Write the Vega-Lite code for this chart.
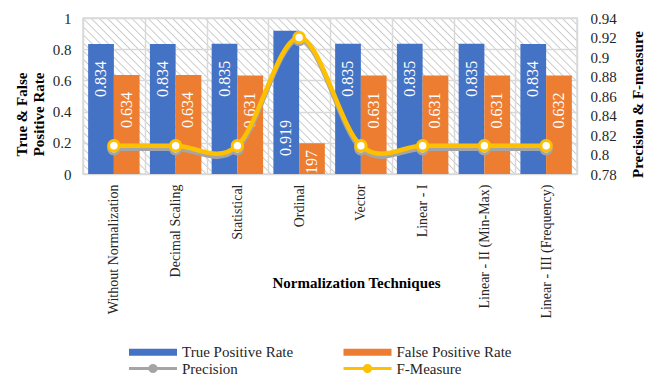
{
  "$schema": "https://vega.github.io/schema/vega-lite/v6.json",
  "width": 494,
  "height": 156,
  "autosize": {"type": "none"},
  "padding": {"left": 83, "top": 18, "right": 81, "bottom": 202},
  "config": {
    "font": "Liberation Serif",
    "view": {"stroke": "#d9d9d9", "strokeWidth": 1.5},
    "axis": {
      "labelFont": "Liberation Serif",
      "labelFontSize": 15,
      "labelColor": "#262626",
      "labelOverlap": false,
      "labelBound": false,
      "titleFont": "Liberation Serif",
      "titleFontSize": 15,
      "titleFontWeight": "bold",
      "titleColor": "#000000",
      "domain": false,
      "ticks": false,
      "gridColor": "#d9d9d9",
      "gridWidth": 1.5
    },
    "legend": {"labelFont": "Liberation Serif", "labelFontSize": 15, "labelColor": "#262626"}
  },
  "view": {
    "fill": {
      "gradient": "linear",
      "x1": 0, "y1": 1, "x2": 1.1965, "y2": 0.6222,
      "stops": [
        {"offset": 0, "color": "#ffffff"}, {"offset": 0.002, "color": "#c8c8c8"}, {"offset": 0.004, "color": "#ffffff"},
        {"offset": 0.0125, "color": "#ffffff"}, {"offset": 0.0145, "color": "#c8c8c8"}, {"offset": 0.0165, "color": "#ffffff"},
        {"offset": 0.025, "color": "#ffffff"}, {"offset": 0.027, "color": "#c8c8c8"}, {"offset": 0.029, "color": "#ffffff"},
        {"offset": 0.0375, "color": "#ffffff"}, {"offset": 0.0395, "color": "#c8c8c8"}, {"offset": 0.0415, "color": "#ffffff"},
        {"offset": 0.05, "color": "#ffffff"}, {"offset": 0.052, "color": "#c8c8c8"}, {"offset": 0.054, "color": "#ffffff"},
        {"offset": 0.0625, "color": "#ffffff"}, {"offset": 0.0645, "color": "#c8c8c8"}, {"offset": 0.0665, "color": "#ffffff"},
        {"offset": 0.075, "color": "#ffffff"}, {"offset": 0.077, "color": "#c8c8c8"}, {"offset": 0.079, "color": "#ffffff"},
        {"offset": 0.0875, "color": "#ffffff"}, {"offset": 0.0895, "color": "#c8c8c8"}, {"offset": 0.0915, "color": "#ffffff"},
        {"offset": 0.1, "color": "#ffffff"}, {"offset": 0.102, "color": "#c8c8c8"}, {"offset": 0.104, "color": "#ffffff"},
        {"offset": 0.1125, "color": "#ffffff"}, {"offset": 0.1145, "color": "#c8c8c8"}, {"offset": 0.1165, "color": "#ffffff"},
        {"offset": 0.125, "color": "#ffffff"}, {"offset": 0.127, "color": "#c8c8c8"}, {"offset": 0.129, "color": "#ffffff"},
        {"offset": 0.1375, "color": "#ffffff"}, {"offset": 0.1395, "color": "#c8c8c8"}, {"offset": 0.1415, "color": "#ffffff"},
        {"offset": 0.15, "color": "#ffffff"}, {"offset": 0.152, "color": "#c8c8c8"}, {"offset": 0.154, "color": "#ffffff"},
        {"offset": 0.1625, "color": "#ffffff"}, {"offset": 0.1645, "color": "#c8c8c8"}, {"offset": 0.1665, "color": "#ffffff"},
        {"offset": 0.175, "color": "#ffffff"}, {"offset": 0.177, "color": "#c8c8c8"}, {"offset": 0.179, "color": "#ffffff"},
        {"offset": 0.1875, "color": "#ffffff"}, {"offset": 0.1895, "color": "#c8c8c8"}, {"offset": 0.1915, "color": "#ffffff"},
        {"offset": 0.2, "color": "#ffffff"}, {"offset": 0.202, "color": "#c8c8c8"}, {"offset": 0.204, "color": "#ffffff"},
        {"offset": 0.2125, "color": "#ffffff"}, {"offset": 0.2145, "color": "#c8c8c8"}, {"offset": 0.2165, "color": "#ffffff"},
        {"offset": 0.225, "color": "#ffffff"}, {"offset": 0.227, "color": "#c8c8c8"}, {"offset": 0.229, "color": "#ffffff"},
        {"offset": 0.2375, "color": "#ffffff"}, {"offset": 0.2395, "color": "#c8c8c8"}, {"offset": 0.2415, "color": "#ffffff"},
        {"offset": 0.25, "color": "#ffffff"}, {"offset": 0.252, "color": "#c8c8c8"}, {"offset": 0.254, "color": "#ffffff"},
        {"offset": 0.2625, "color": "#ffffff"}, {"offset": 0.2645, "color": "#c8c8c8"}, {"offset": 0.2665, "color": "#ffffff"},
        {"offset": 0.275, "color": "#ffffff"}, {"offset": 0.277, "color": "#c8c8c8"}, {"offset": 0.279, "color": "#ffffff"},
        {"offset": 0.2875, "color": "#ffffff"}, {"offset": 0.2895, "color": "#c8c8c8"}, {"offset": 0.2915, "color": "#ffffff"},
        {"offset": 0.3, "color": "#ffffff"}, {"offset": 0.302, "color": "#c8c8c8"}, {"offset": 0.304, "color": "#ffffff"},
        {"offset": 0.3125, "color": "#ffffff"}, {"offset": 0.3145, "color": "#c8c8c8"}, {"offset": 0.3165, "color": "#ffffff"},
        {"offset": 0.325, "color": "#ffffff"}, {"offset": 0.327, "color": "#c8c8c8"}, {"offset": 0.329, "color": "#ffffff"},
        {"offset": 0.3375, "color": "#ffffff"}, {"offset": 0.3395, "color": "#c8c8c8"}, {"offset": 0.3415, "color": "#ffffff"},
        {"offset": 0.35, "color": "#ffffff"}, {"offset": 0.352, "color": "#c8c8c8"}, {"offset": 0.354, "color": "#ffffff"},
        {"offset": 0.3625, "color": "#ffffff"}, {"offset": 0.3645, "color": "#c8c8c8"}, {"offset": 0.3665, "color": "#ffffff"},
        {"offset": 0.375, "color": "#ffffff"}, {"offset": 0.377, "color": "#c8c8c8"}, {"offset": 0.379, "color": "#ffffff"},
        {"offset": 0.3875, "color": "#ffffff"}, {"offset": 0.3895, "color": "#c8c8c8"}, {"offset": 0.3915, "color": "#ffffff"},
        {"offset": 0.4, "color": "#ffffff"}, {"offset": 0.402, "color": "#c8c8c8"}, {"offset": 0.404, "color": "#ffffff"},
        {"offset": 0.4125, "color": "#ffffff"}, {"offset": 0.4145, "color": "#c8c8c8"}, {"offset": 0.4165, "color": "#ffffff"},
        {"offset": 0.425, "color": "#ffffff"}, {"offset": 0.427, "color": "#c8c8c8"}, {"offset": 0.429, "color": "#ffffff"},
        {"offset": 0.4375, "color": "#ffffff"}, {"offset": 0.4395, "color": "#c8c8c8"}, {"offset": 0.4415, "color": "#ffffff"},
        {"offset": 0.45, "color": "#ffffff"}, {"offset": 0.452, "color": "#c8c8c8"}, {"offset": 0.454, "color": "#ffffff"},
        {"offset": 0.4625, "color": "#ffffff"}, {"offset": 0.4645, "color": "#c8c8c8"}, {"offset": 0.4665, "color": "#ffffff"},
        {"offset": 0.475, "color": "#ffffff"}, {"offset": 0.477, "color": "#c8c8c8"}, {"offset": 0.479, "color": "#ffffff"},
        {"offset": 0.4875, "color": "#ffffff"}, {"offset": 0.4895, "color": "#c8c8c8"}, {"offset": 0.4915, "color": "#ffffff"},
        {"offset": 0.5, "color": "#ffffff"}, {"offset": 0.502, "color": "#c8c8c8"}, {"offset": 0.504, "color": "#ffffff"},
        {"offset": 0.5125, "color": "#ffffff"}, {"offset": 0.5145, "color": "#c8c8c8"}, {"offset": 0.5165, "color": "#ffffff"},
        {"offset": 0.525, "color": "#ffffff"}, {"offset": 0.527, "color": "#c8c8c8"}, {"offset": 0.529, "color": "#ffffff"},
        {"offset": 0.5375, "color": "#ffffff"}, {"offset": 0.5395, "color": "#c8c8c8"}, {"offset": 0.5415, "color": "#ffffff"},
        {"offset": 0.55, "color": "#ffffff"}, {"offset": 0.552, "color": "#c8c8c8"}, {"offset": 0.554, "color": "#ffffff"},
        {"offset": 0.5625, "color": "#ffffff"}, {"offset": 0.5645, "color": "#c8c8c8"}, {"offset": 0.5665, "color": "#ffffff"},
        {"offset": 0.575, "color": "#ffffff"}, {"offset": 0.577, "color": "#c8c8c8"}, {"offset": 0.579, "color": "#ffffff"},
        {"offset": 0.5875, "color": "#ffffff"}, {"offset": 0.5895, "color": "#c8c8c8"}, {"offset": 0.5915, "color": "#ffffff"},
        {"offset": 0.6, "color": "#ffffff"}, {"offset": 0.602, "color": "#c8c8c8"}, {"offset": 0.604, "color": "#ffffff"},
        {"offset": 0.6125, "color": "#ffffff"}, {"offset": 0.6145, "color": "#c8c8c8"}, {"offset": 0.6165, "color": "#ffffff"},
        {"offset": 0.625, "color": "#ffffff"}, {"offset": 0.627, "color": "#c8c8c8"}, {"offset": 0.629, "color": "#ffffff"},
        {"offset": 0.6375, "color": "#ffffff"}, {"offset": 0.6395, "color": "#c8c8c8"}, {"offset": 0.6415, "color": "#ffffff"},
        {"offset": 0.65, "color": "#ffffff"}, {"offset": 0.652, "color": "#c8c8c8"}, {"offset": 0.654, "color": "#ffffff"},
        {"offset": 0.6625, "color": "#ffffff"}, {"offset": 0.6645, "color": "#c8c8c8"}, {"offset": 0.6665, "color": "#ffffff"},
        {"offset": 0.675, "color": "#ffffff"}, {"offset": 0.677, "color": "#c8c8c8"}, {"offset": 0.679, "color": "#ffffff"},
        {"offset": 0.6875, "color": "#ffffff"}, {"offset": 0.6895, "color": "#c8c8c8"}, {"offset": 0.6915, "color": "#ffffff"},
        {"offset": 0.7, "color": "#ffffff"}, {"offset": 0.702, "color": "#c8c8c8"}, {"offset": 0.704, "color": "#ffffff"},
        {"offset": 0.7125, "color": "#ffffff"}, {"offset": 0.7145, "color": "#c8c8c8"}, {"offset": 0.7165, "color": "#ffffff"},
        {"offset": 0.725, "color": "#ffffff"}, {"offset": 0.727, "color": "#c8c8c8"}, {"offset": 0.729, "color": "#ffffff"},
        {"offset": 0.7375, "color": "#ffffff"}, {"offset": 0.7395, "color": "#c8c8c8"}, {"offset": 0.7415, "color": "#ffffff"},
        {"offset": 0.75, "color": "#ffffff"}, {"offset": 0.752, "color": "#c8c8c8"}, {"offset": 0.754, "color": "#ffffff"},
        {"offset": 0.7625, "color": "#ffffff"}, {"offset": 0.7645, "color": "#c8c8c8"}, {"offset": 0.7665, "color": "#ffffff"},
        {"offset": 0.775, "color": "#ffffff"}, {"offset": 0.777, "color": "#c8c8c8"}, {"offset": 0.779, "color": "#ffffff"},
        {"offset": 0.7875, "color": "#ffffff"}, {"offset": 0.7895, "color": "#c8c8c8"}, {"offset": 0.7915, "color": "#ffffff"},
        {"offset": 0.8, "color": "#ffffff"}, {"offset": 0.802, "color": "#c8c8c8"}, {"offset": 0.804, "color": "#ffffff"},
        {"offset": 0.8125, "color": "#ffffff"}, {"offset": 0.8145, "color": "#c8c8c8"}, {"offset": 0.8165, "color": "#ffffff"},
        {"offset": 0.825, "color": "#ffffff"}, {"offset": 0.827, "color": "#c8c8c8"}, {"offset": 0.829, "color": "#ffffff"},
        {"offset": 0.8375, "color": "#ffffff"}, {"offset": 0.8395, "color": "#c8c8c8"}, {"offset": 0.8415, "color": "#ffffff"},
        {"offset": 0.85, "color": "#ffffff"}, {"offset": 0.852, "color": "#c8c8c8"}, {"offset": 0.854, "color": "#ffffff"},
        {"offset": 0.8625, "color": "#ffffff"}, {"offset": 0.8645, "color": "#c8c8c8"}, {"offset": 0.8665, "color": "#ffffff"},
        {"offset": 0.875, "color": "#ffffff"}, {"offset": 0.877, "color": "#c8c8c8"}, {"offset": 0.879, "color": "#ffffff"},
        {"offset": 0.8875, "color": "#ffffff"}, {"offset": 0.8895, "color": "#c8c8c8"}, {"offset": 0.8915, "color": "#ffffff"},
        {"offset": 0.9, "color": "#ffffff"}, {"offset": 0.902, "color": "#c8c8c8"}, {"offset": 0.904, "color": "#ffffff"},
        {"offset": 0.9125, "color": "#ffffff"}, {"offset": 0.9145, "color": "#c8c8c8"}, {"offset": 0.9165, "color": "#ffffff"},
        {"offset": 0.925, "color": "#ffffff"}, {"offset": 0.927, "color": "#c8c8c8"}, {"offset": 0.929, "color": "#ffffff"},
        {"offset": 0.9375, "color": "#ffffff"}, {"offset": 0.9395, "color": "#c8c8c8"}, {"offset": 0.9415, "color": "#ffffff"},
        {"offset": 0.95, "color": "#ffffff"}, {"offset": 0.952, "color": "#c8c8c8"}, {"offset": 0.954, "color": "#ffffff"},
        {"offset": 0.9625, "color": "#ffffff"}, {"offset": 0.9645, "color": "#c8c8c8"}, {"offset": 0.9665, "color": "#ffffff"},
        {"offset": 0.975, "color": "#ffffff"}, {"offset": 0.977, "color": "#c8c8c8"}, {"offset": 0.979, "color": "#ffffff"},
        {"offset": 0.9875, "color": "#ffffff"}, {"offset": 0.9895, "color": "#c8c8c8"}, {"offset": 0.9915, "color": "#ffffff"}
      ]
    }
  },
  "data": {
    "values": [
      {"technique": "Without Normalization", "measure": "True Positive Rate", "value": 0.834},
      {"technique": "Without Normalization", "measure": "False Positive Rate", "value": 0.634},
      {"technique": "Without Normalization", "measure": "Precision", "value": 0.806},
      {"technique": "Without Normalization", "measure": "F-Measure", "value": 0.809},
      {"technique": "Decimal Scaling", "measure": "True Positive Rate", "value": 0.834},
      {"technique": "Decimal Scaling", "measure": "False Positive Rate", "value": 0.634},
      {"technique": "Decimal Scaling", "measure": "Precision", "value": 0.806},
      {"technique": "Decimal Scaling", "measure": "F-Measure", "value": 0.809},
      {"technique": "Statistical", "measure": "True Positive Rate", "value": 0.835},
      {"technique": "Statistical", "measure": "False Positive Rate", "value": 0.631},
      {"technique": "Statistical", "measure": "Precision", "value": 0.806},
      {"technique": "Statistical", "measure": "F-Measure", "value": 0.809},
      {"technique": "Ordinal", "measure": "True Positive Rate", "value": 0.919},
      {"technique": "Ordinal", "measure": "False Positive Rate", "value": 0.197},
      {"technique": "Ordinal", "measure": "Precision", "value": 0.918},
      {"technique": "Ordinal", "measure": "F-Measure", "value": 0.92},
      {"technique": "Vector", "measure": "True Positive Rate", "value": 0.835},
      {"technique": "Vector", "measure": "False Positive Rate", "value": 0.631},
      {"technique": "Vector", "measure": "Precision", "value": 0.806},
      {"technique": "Vector", "measure": "F-Measure", "value": 0.809},
      {"technique": "Linear - I", "measure": "True Positive Rate", "value": 0.835},
      {"technique": "Linear - I", "measure": "False Positive Rate", "value": 0.631},
      {"technique": "Linear - I", "measure": "Precision", "value": 0.806},
      {"technique": "Linear - I", "measure": "F-Measure", "value": 0.809},
      {"technique": "Linear - II (Min-Max)", "measure": "True Positive Rate", "value": 0.835},
      {"technique": "Linear - II (Min-Max)", "measure": "False Positive Rate", "value": 0.631},
      {"technique": "Linear - II (Min-Max)", "measure": "Precision", "value": 0.806},
      {"technique": "Linear - II (Min-Max)", "measure": "F-Measure", "value": 0.809},
      {"technique": "Linear - III (Frequency)", "measure": "True Positive Rate", "value": 0.834},
      {"technique": "Linear - III (Frequency)", "measure": "False Positive Rate", "value": 0.632},
      {"technique": "Linear - III (Frequency)", "measure": "Precision", "value": 0.806},
      {"technique": "Linear - III (Frequency)", "measure": "F-Measure", "value": 0.809}
    ]
  },
  "encoding": {
    "x": {
      "field": "technique",
      "type": "nominal",
      "sort": null,
      "scale": {"paddingInner": 0, "paddingOuter": 0},
      "axis": {
        "title": "Normalization Techniques",
        "labelAngle": 270,
        "labelAlign": "right",
        "labelBaseline": "middle",
        "labelFontSize": 14,
        "labelPadding": 10,
        "grid": true,
        "tickBand": "extent",
        "titleX": 273,
        "titleY": 108,
        "titleAlign": "center",
        "titleBaseline": "middle",
        "titleAngle": 0
      }
    }
  },
  "layer": [
    {
      "transform": [{"filter": {"field": "measure", "oneOf": ["True Positive Rate", "False Positive Rate"]}}],
      "layer": [
        {
          "mark": {"type": "bar"},
          "encoding": {
            "y": {
              "field": "value",
              "type": "quantitative",
              "scale": {"domain": [0, 1], "nice": false},
              "axis": {
                "orient": "left",
                "values": [0, 0.2, 0.4, 0.6, 0.8, 1],
                "tickCount": 6,
                "format": "~g",
                "grid": true,
                "labelOverlap": false,
                "labelPadding": 12,
                "title": ["True & False", "Positive Rate"],
                "titleX": -62,
                "titleY": 96,
                "titleAngle": 270,
                "titleAlign": "center",
                "titleBaseline": "middle",
                "titleLineHeight": 17
              }
            },
            "xOffset": {
              "field": "measure",
              "type": "nominal",
              "scale": {"domain": ["True Positive Rate", "False Positive Rate"], "paddingInner": 0, "paddingOuter": 0.2}
            },
            "color": {
              "field": "measure",
              "type": "nominal",
              "scale": {
                "domain": ["True Positive Rate", "False Positive Rate", "Precision", "F-Measure"],
                "range": ["#4472C4", "#ED7D31", "#A5A5A5", "#FFC000"]
              },
              "legend": {
                "orient": "none",
                "legendX": 62.5,
                "legendY": 326,
                "title": null,
                "columns": 2,
                "direction": "horizontal",
                "gridAlign": "all",
                "columnPadding": 39.5,
                "rowPadding": -31,
                "labelOffset": 21.5,
                "symbolSize": 2304,
                "symbolStrokeWidth": 0,
                "symbolType": "M-1,-0.15H1V0.15H-1Z",
                "encode": {
                  "symbols": {
                    "update": {
                      "shape": {"signal": "indexof(['Precision','F-Measure'], datum.value) < 0 ? 'M-1,-0.15H1V0.15H-1Z' : 'M-1,0H-0.13M0.13,0H1M-0.13,0A0.13,0.13,0,1,1,0.13,0A0.13,0.13,0,1,1,-0.13,0'"},
                      "fill": {"signal": "indexof(['Precision','F-Measure'], datum.value) < 0 ? scale('color', datum.value) : 'white'"},
                      "stroke": {"scale": "color", "field": "value"},
                      "strokeWidth": {"signal": "indexof(['Precision','F-Measure'], datum.value) < 0 ? 0 : 3"},
                      "opacity": {"value": 1},
                      "size": {"value": 2304}
                    }
                  }
                }
              }
            }
          }
        },
        {
          "transform": [{"filter": "datum.technique !== 'Ordinal'"}],
          "mark": {"type": "text", "angle": 270, "align": "right", "baseline": "middle", "dx": -17, "fill": "white", "fontSize": 16},
          "encoding": {
            "y": {"field": "value", "type": "quantitative"},
            "xOffset": {"field": "measure", "type": "nominal"},
            "text": {"field": "value", "type": "quantitative", "format": ".3f"}
          }
        },
        {
          "transform": [{"filter": "datum.technique === 'Ordinal' && datum.measure === 'True Positive Rate'"}],
          "mark": {"type": "text", "angle": 270, "align": "right", "baseline": "middle", "dx": -17, "fill": "white", "fontSize": 16, "clip": true},
          "encoding": {
            "y": {"datum": 0.455, "type": "quantitative"},
            "xOffset": {"field": "measure", "type": "nominal"},
            "text": {"field": "value", "type": "quantitative", "format": ".3f"}
          }
        },
        {
          "transform": [{"filter": "datum.technique === 'Ordinal' && datum.measure === 'False Positive Rate'"}],
          "mark": {"type": "text", "angle": 270, "align": "right", "baseline": "middle", "dx": -17, "fill": "white", "fontSize": 16, "clip": true},
          "encoding": {
            "y": {"datum": 0.263, "type": "quantitative"},
            "xOffset": {"field": "measure", "type": "nominal"},
            "text": {"field": "value", "type": "quantitative", "format": ".3f"}
          }
        }
      ]
    },
    {
      "transform": [{"filter": {"field": "measure", "oneOf": ["Precision", "F-Measure"]}}],
      "encoding": {
        "y": {
          "field": "value",
          "type": "quantitative",
          "scale": {"domain": [0.78, 0.94], "nice": false, "zero": false},
          "axis": {
            "orient": "right",
            "values": [0.78, 0.8, 0.82, 0.84, 0.86, 0.88, 0.9, 0.92, 0.94],
            "format": "~g",
            "grid": false,
            "labelPadding": 13,
            "title": "Precision & F-measure",
            "titleX": 60,
            "titleY": 86,
            "titleAngle": 270,
            "titleAlign": "center",
            "titleBaseline": "middle"
          }
        },
        "color": {
          "field": "measure",
          "type": "nominal",
          "scale": {
            "domain": ["True Positive Rate", "False Positive Rate", "Precision", "F-Measure"],
            "range": ["#4472C4", "#ED7D31", "#A5A5A5", "#FFC000"]
          }
        }
      },
      "layer": [
        {
          "transform": [{"filter": "datum.measure === 'Precision'"}],
          "mark": {"type": "line", "interpolate": "cardinal", "strokeWidth": 4.5}
        },
        {
          "transform": [{"filter": "datum.measure === 'Precision'"}],
          "mark": {"type": "point", "filled": false, "fill": "white", "size": 110, "strokeWidth": 3, "opacity": 1}
        },
        {
          "transform": [{"filter": "datum.measure === 'F-Measure'"}],
          "mark": {"type": "line", "interpolate": "cardinal", "strokeWidth": 4.5}
        },
        {
          "transform": [{"filter": "datum.measure === 'F-Measure'"}],
          "mark": {"type": "point", "filled": false, "fill": "white", "size": 110, "strokeWidth": 3, "opacity": 1}
        }
      ]
    }
  ],
  "resolve": {"scale": {"y": "independent"}}
}
